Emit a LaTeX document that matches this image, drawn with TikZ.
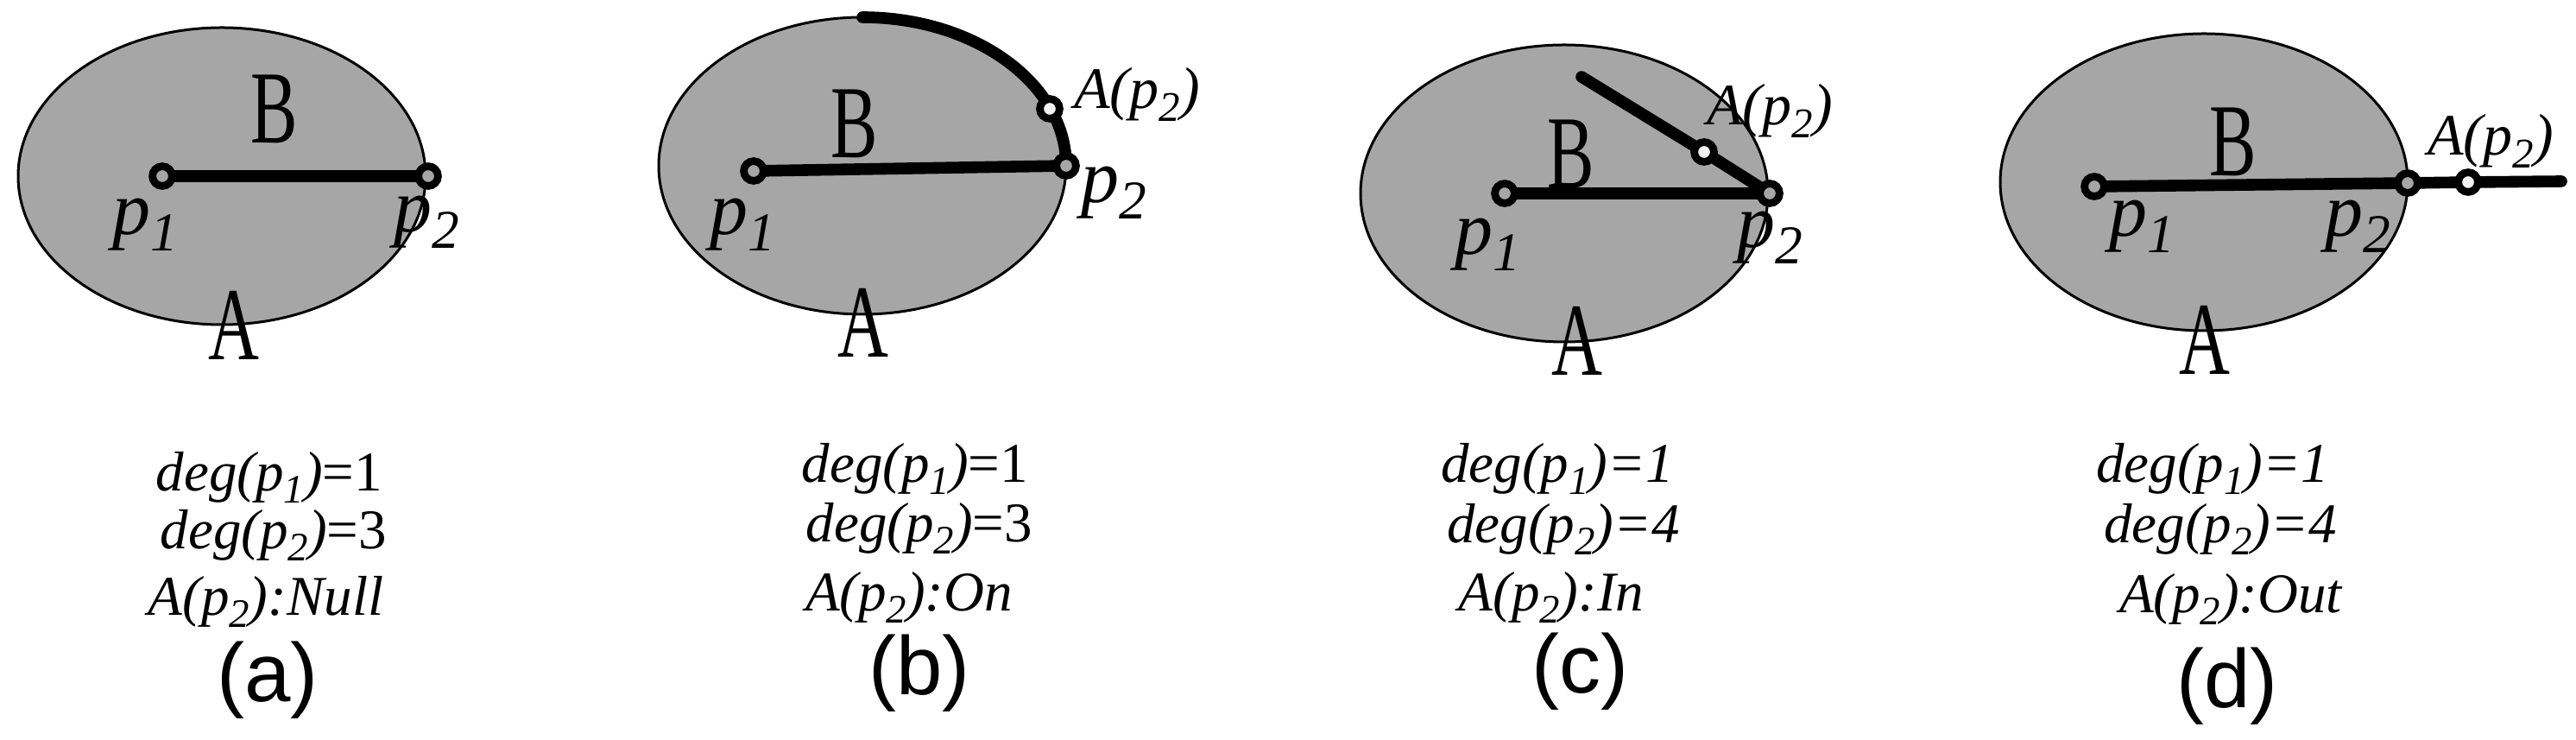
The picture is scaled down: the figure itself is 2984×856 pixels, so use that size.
\documentclass[tikz,border=0pt]{standalone}
\usepackage{fontspec}
\usepackage{graphicx}
\setmainfont{Liberation Serif}
\newfontfamily\capsans{Liberation Sans}
\definecolor{regiongray}{RGB}{166,166,166}
\definecolor{holewhite}{RGB}{242,242,242}
\newcommand\lsub[1]{\raisebox{-0.22em}{\scalebox{0.72}{#1}}}
\newcommand\narrowtxt[1]{\scalebox{0.68}[1]{#1}}
\pgfdeclarelayer{back}
\pgfdeclarelayer{mid}
\pgfsetlayers{back,mid,main}
\begin{document}
\begin{tikzpicture}[x=0.25pt,y=0.25pt,
  region/.style={draw=black, line width=0.75pt, fill=regiongray},
  ringpt/.style={circle, draw=black, line width=2.2pt, fill=regiongray, inner sep=0pt, minimum size=5.7pt},
  ringw/.style={ringpt, fill=holewhite},
  edge/.style={line width=3.4pt, line cap=round},
  big/.style={inner sep=0pt, font=\fontsize{30}{30}\selectfont},
  plab/.style={inner sep=0pt, font=\fontsize{22}{22}\selectfont\itshape},
  alab/.style={inner sep=0pt, font=\fontsize{17}{17}\selectfont\itshape},
  info/.style={inner sep=0pt, font=\fontsize{16.25}{16.25}\selectfont\itshape},
  captxt/.style={inner sep=0pt, font=\capsans\fontsize{24}{24}\selectfont}
]
\useasboundingbox (0,0) rectangle (2984,856);

% ---------- (a) ----------
\begin{pgfonlayer}{back}
\draw[region] (257,652) ellipse [x radius=236, y radius=172];
\end{pgfonlayer}
\node[ringpt] (ap1) at (188,652) {};
\node[ringpt] (ap2) at (496,652) {};
\begin{pgfonlayer}{mid}
\draw[edge] (ap1.center) -- (ap2.center);
\end{pgfonlayer}
\node[big] (aB) at (318,730) {\narrowtxt{B}};
\node[big] (aA) at (271,479) {\narrowtxt{A}};
\node[plab] (ap1l) at (168,596) {p\lsub{1}};
\node[plab] (ap2l) at (494,599) {p\lsub{2}};
\node[info] (ai1) at (312,303) {deg(p\lsub{1})\textup{=1}};
\node[info] (ai2) at (317,236) {deg(p\lsub{2})\textup{=3}};
\node[info] (ai3) at (308,159) {A(p\lsub{2}):Null};
\node[captxt] (acap) at (310,68) {(a)};

% ---------- (b) ----------
\begin{pgfonlayer}{back}
\draw[region] (999,664) ellipse [x radius=236, y radius=172];
\end{pgfonlayer}
\coordinate (btop) at (999,836);
\node[ringpt] (bp1) at (873,658) {};
\node[ringpt] (bp2) at (1235,664) {};
\node[ringw] (bA) at (1216,730) {};
\begin{pgfonlayer}{mid}
\draw[edge] (bp1.center) -- (bp2.center);
\draw[edge] (btop) arc[start angle=90, end angle=0, x radius=236, y radius=172];
\end{pgfonlayer}
\node[big] (bB) at (990,713) {\narrowtxt{B}};
\node[big] (bAA) at (1000,482) {\narrowtxt{A}};
\node[plab] (bp1l) at (860,596) {p\lsub{1}};
\node[plab] (bp2l) at (1290,633) {p\lsub{2}};
\node[alab] (bAl) at (1317,747) {A(p\lsub{2})};
\node[info] (bi1) at (1060,313) {deg(p\lsub{1})\textup{=1}};
\node[info] (bi2) at (1065,244) {deg(p\lsub{2})\textup{=3}};
\node[info] (bi3) at (1053,164) {A(p\lsub{2}):On};
\node[captxt] (bcap) at (1065,76) {(b)};

% ---------- (c) ----------
\begin{pgfonlayer}{back}
\draw[region] (1812,632) ellipse [x radius=236, y radius=172];
\end{pgfonlayer}
\coordinate (cstart) at (1832,767);
\node[ringpt] (cp1) at (1743,632) {};
\node[ringpt] (cp2) at (2050,632) {};
\node[ringw] (cA) at (1974,680) {};
\begin{pgfonlayer}{mid}
\draw[edge] (cp1.center) -- (cp2.center);
\draw[edge] (cstart) -- (cA.center) -- (cp2.center);
\end{pgfonlayer}
\node[big] (cB) at (1820,678) {\narrowtxt{B}};
\node[big] (cAA) at (1827,461) {\narrowtxt{A}};
\node[plab] (cp1l) at (1723,573) {p\lsub{1}};
\node[plab] (cp2l) at (2050,581) {p\lsub{2}};
\node[alab] (cAl) at (2050,728) {A(p\lsub{2})};
\node[info] (ci1) at (1804,313) {deg(p\lsub{1})=1};
\node[info] (ci2) at (1811,243) {deg(p\lsub{2})=4};
\node[info] (ci3) at (1797,164) {A(p\lsub{2}):In};
\node[captxt] (ccap) at (1830,78) {(c)};

% ---------- (d) ----------
\begin{pgfonlayer}{back}
\draw[region] (2553,645) ellipse [x radius=236, y radius=172];
\end{pgfonlayer}
\coordinate (dend) at (2967,646);
\node[ringpt] (dp1) at (2426,640) {};
\node[ringpt] (dp2) at (2789,644) {};
\node[ringw] (dA) at (2859,645) {};
\begin{pgfonlayer}{mid}
\draw[edge] (dp1.center) -- (dp2.center) -- (dA.center) -- (dend);
\end{pgfonlayer}
\node[big] (dB) at (2587,692) {\narrowtxt{B}};
\node[big] (dAA) at (2554,462) {\narrowtxt{A}};
\node[plab] (dp1l) at (2481,594) {p\lsub{1}};
\node[plab] (dp2l) at (2731,594) {p\lsub{2}};
\node[alab] (dAl) at (2885,693) {A(p\lsub{2})};
\node[info] (di1) at (2563,313) {deg(p\lsub{1})=1};
\node[info] (di2) at (2572,243) {deg(p\lsub{2})=4};
\node[info] (di3) at (2584,162) {A(p\lsub{2}):Out};
\node[captxt] (dcap) at (2580,61) {(d)};
\end{tikzpicture}
\end{document}
